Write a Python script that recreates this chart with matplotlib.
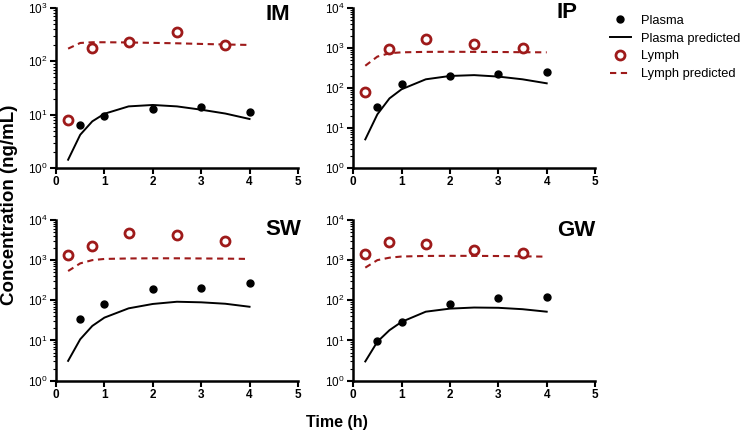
import numpy as np
import matplotlib
matplotlib.use("Agg")
import matplotlib.pyplot as plt
from matplotlib.lines import Line2D
from matplotlib.ticker import LogLocator, NullFormatter

plt.rcParams["font.family"] = ["Liberation Sans", "DejaVu Sans"]
plt.rcParams["mathtext.fontset"] = "custom"
plt.rcParams["mathtext.rm"] = "Liberation Sans:bold"
plt.rcParams["mathtext.bf"] = "Liberation Sans:bold"

# sampling times (h)
t_plasma = [0.5, 1, 2, 3, 4]
t_lymph = [0.25, 0.75, 1.5, 2.5, 3.5]
t_pred = [0.25, 0.5, 0.75, 1, 1.5, 2, 2.5, 3, 3.5, 4]

# IM
im_plasma = [6.3, 9.3, 12.8, 13.7, 11]
im_lymph = [8.1, 178, 234, 350, 205]
im_plasma_pred = [1.43, 4.2, 7.5, 10.4, 14.3, 15.2, 14.3, 12.4, 10.5, 8.3]
im_lymph_pred = [173, 221, 228, 228, 226, 222, 218, 212, 207, 203]

# IP
ip_plasma = [33, 126, 200, 220, 255]
ip_lymph = [79, 930, 1650, 1280, 1020]
ip_plasma_pred = [5.2, 22, 55, 93, 165, 200, 210, 193, 165, 131]
ip_lymph_pred = [360, 610, 740, 780, 800, 805, 800, 795, 785, 780]

# SW
sw_plasma = [34, 81, 188, 203, 273]
sw_lymph = [1340, 2280, 4660, 4290, 2990]
sw_plasma_pred = [3.1, 10.7, 23, 37, 63, 81, 92, 89, 82, 69]
sw_lymph_pred = [535, 830, 1000, 1070, 1100, 1110, 1110, 1100, 1090, 1070]

# GW
gw_plasma = [9.7, 29, 81, 116, 123]
gw_lymph = [1450, 2830, 2560, 1750, 1480]
gw_plasma_pred = [3.0, 9.3, 18, 29, 52, 62, 66, 65, 60, 52]
gw_lymph_pred = [650, 1000, 1150, 1230, 1270, 1280, 1275, 1265, 1245, 1220]

red = "#9e1a1a"
W, H = 742, 433

fig = plt.figure(figsize=(7.42, 4.33), dpi=100)

panels = [
    ("IM", [0.0755, 0.612, 0.326, 0.3695], 3, (278, 14), im_plasma, im_lymph, im_plasma_pred, im_lymph_pred),
    ("IP", [0.476, 0.612, 0.326, 0.3695], 4, (567, 13), ip_plasma, ip_lymph, ip_plasma_pred, ip_lymph_pred),
    ("SW", [0.0755, 0.121, 0.326, 0.371], 4, (283, 230), sw_plasma, sw_lymph, sw_plasma_pred, sw_lymph_pred),
    ("GW", [0.476, 0.121, 0.326, 0.371], 4, (576, 231), gw_plasma, gw_lymph, gw_plasma_pred, gw_lymph_pred),
]

for name, rect, top, lab_xy, pl, ly, plp, lyp in panels:
    ax = fig.add_axes(rect)
    ax.plot(t_pred, plp, color="black", lw=1.4, zorder=2)
    ax.plot(t_pred, lyp, color=red, lw=1.5, ls=(0, (3, 2.2)), zorder=2)
    ax.plot(t_plasma, pl, "o", color="black", ms=5, zorder=3)
    ax.plot(t_lymph, ly, "o", mfc="white", mec=red, mew=2, ms=6.5, zorder=3)
    ax.set_yscale("log")
    ax.set_ylim(1, 10 ** top)
    ax.set_xlim(0, 5)
    ax.set_xticks(range(6))
    ax.set_xticklabels([str(i) for i in range(6)], fontweight="bold", fontsize=8.5)
    ax.set_yticks([10 ** k for k in range(top + 1)])
    ax.set_yticklabels([r"$\mathregular{10^{%d}}$" % k for k in range(top + 1)], fontsize=8.5)
    ax.yaxis.set_minor_locator(LogLocator(base=10, subs=np.arange(2, 10)))
    ax.yaxis.set_minor_formatter(NullFormatter())
    for s in ["top", "right"]:
        ax.spines[s].set_visible(False)
    for s in ["left", "bottom"]:
        ax.spines[s].set_linewidth(1.8)
    ax.tick_params(which="major", direction="out", length=4, width=1.5, pad=2)
    ax.tick_params(which="minor", direction="out", length=2, width=0.8)
    for ln in ax.lines:
        ln.set_clip_on(False)
    fig.text(lab_xy[0] / W, 1 - lab_xy[1] / H, name, ha="center", va="center",
             fontsize=16, fontweight="bold")

fig.text(10 / W, 1 - 205 / H, "Concentration (ng/mL)", rotation=90, ha="center", va="center",
         fontsize=13.5, fontweight="bold")
fig.text(337 / W, 1 - 422 / H, "Time (h)", ha="center", va="center", fontsize=11.5, fontweight="bold")

handles = [
    Line2D([], [], ls="none", marker="o", color="black", ms=5),
    Line2D([], [], color="black", lw=1.4),
    Line2D([], [], ls="none", marker="o", mfc="white", mec=red, mew=2, ms=6.5),
    Line2D([], [], color=red, lw=1.5, ls=(0, (3, 2.2))),
]
labels = ["Plasma", "Plasma predicted", "Lymph", "Lymph predicted"]
fig.legend(handles, labels, loc="upper left", bbox_to_anchor=(0.815, 0.978),
           frameon=False, fontsize=9.3, handlelength=1.6, handletextpad=0.8,
           labelspacing=0.45, borderaxespad=0)

fig.savefig("out.png", dpi=100)
